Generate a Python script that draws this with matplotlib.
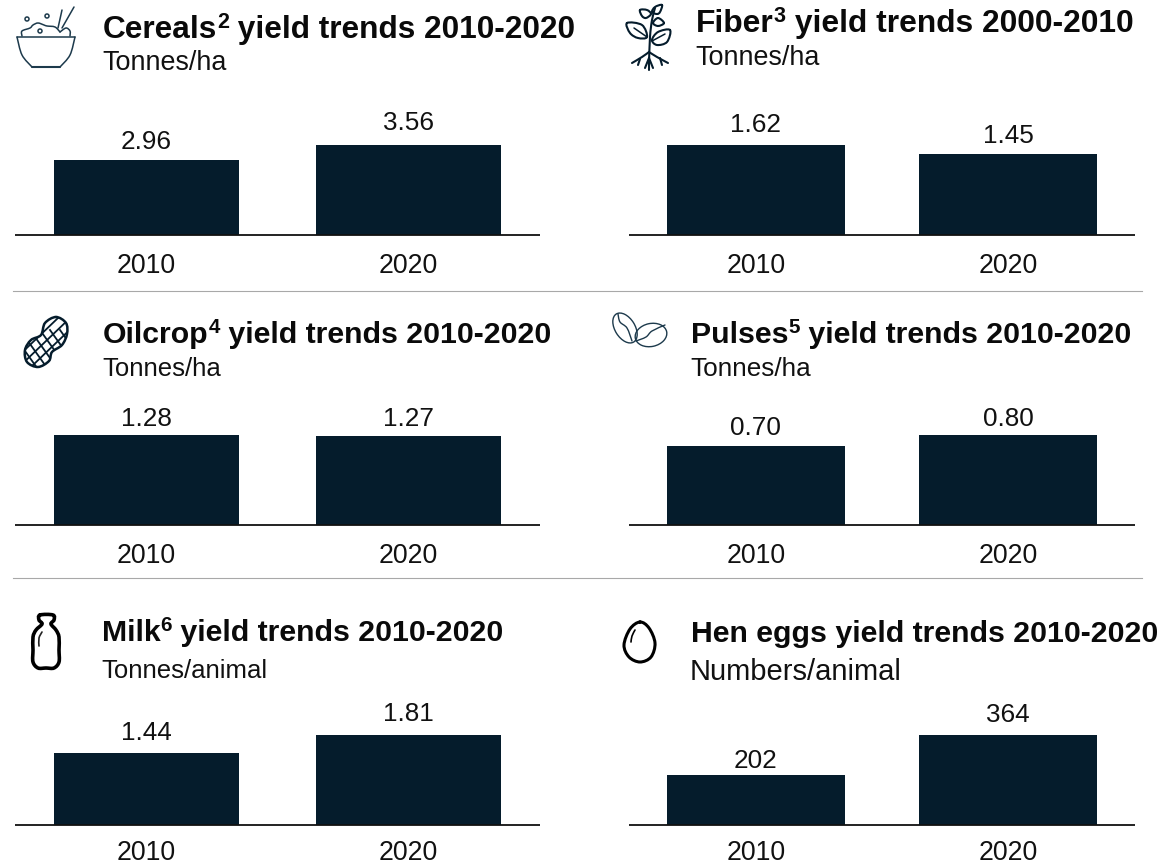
import matplotlib
matplotlib.use("Agg")
import matplotlib.pyplot as plt
from matplotlib.path import Path
from matplotlib.patches import PathPatch, Ellipse, Circle

plt.rcParams['font.family'] = ['Liberation Sans', 'DejaVu Sans']

W, H = 1163, 864
NAVY = '#051c2c'
INK = '#111111'

years = ['2010', '2020']
cereals = [2.96, 3.56]
fiber = [1.62, 1.45]
oilcrop = [1.28, 1.27]
pulses = [0.70, 0.80]
milk = [1.44, 1.81]
eggs = [202, 364]

cereals_labels = ['2.96', '3.56']
fiber_labels = ['1.62', '1.45']
oilcrop_labels = ['1.28', '1.27']
pulses_labels = ['0.70', '0.80']
milk_labels = ['1.44', '1.81']
eggs_labels = ['202', '364']

title_heads = ['Cereals', 'Fiber', 'Oilcrop', 'Pulses', 'Milk', 'Hen eggs']
title_sups = ['2', '3', '4', '5', '6', '']
title_tails = [' yield trends 2010-2020', ' yield trends 2000-2010', ' yield trends 2010-2020',
               ' yield trends 2010-2020', ' yield trends 2010-2020', ' yield trends 2010-2020']
units = ['Tonnes/ha', 'Tonnes/ha', 'Tonnes/ha', 'Tonnes/ha',
         'Tonnes/animal', 'Numbers/animal']

fig = plt.figure(figsize=(W / 100, H / 100), dpi=100)


# axes rectangle given in pixels from the top left, nudge = label shift in px
def panel(left, right, base, values, labels, nudge, pad=13):
    ax = fig.add_axes([left / W, 1 - base / H, (right - left) / W, 90 / H])
    ax.bar(years, values, width=0.705, color=NAVY)
    ax.set_xlim(-0.5, 1.5)
    ax.set_ylim(0, max(values))
    ax.set_yticks([])
    ax.tick_params(axis='x', length=0, pad=pad, labelsize=19.2, colors=INK)
    for s in ['top', 'left', 'right']:
        ax.spines[s].set_visible(False)
    ax.spines['bottom'].set_linewidth(1.3)
    ax.spines['bottom'].set_color(INK)
    ax.spines['bottom'].set_capstyle('butt')
    for i, v in enumerate(values):
        ax.annotate(labels[i], (i, v), xytext=(0, 6 - nudge[i] * 0.72), textcoords='offset points',
                    ha='center', va='bottom', fontsize=18.8, color=INK,
                    annotation_clip=False)
    return ax


panel(15, 540, 235, cereals, cereals_labels, [2, -2])
panel(629.5, 1134.5, 235, fiber, fiber_labels, [0, 2])
panel(15, 540, 525, oilcrop, oilcrop_labels, [4, 4])
panel(629.5, 1134.5, 525, pulses, pulses_labels, [2, 4])
panel(15, 540, 825, milk, milk_labels, [0, -1], pad=11)
panel(629.5, 1134.5, 825, eggs, eggs_labels, [6, 0], pad=11)

# overlay in pixel coordinates for headers, rules and icons
ov = fig.add_axes([0, 0, 1, 1], facecolor='none')
ov.set_xlim(0, W)
ov.set_ylim(H, 0)
ov.axis('off')

title_pos = [(103, 38), (696, 32), (103, 343), (691, 343), (102, 641), (691, 642)]
title_size = [22.8, 22.9, 21.8, 21.8, 21.8, 21.8]
unit_pos = [(102, 70), (695, 65), (102, 376), (690, 376), (101, 678), (690, 680)]
unit_size = [19.4, 19.4, 18.5, 18.8, 18.5, 21.0]

renderer = fig.canvas.get_renderer()
for i in range(6):
    x, y = title_pos[i]
    fs = title_size[i]
    for piece, size, lift, gap in [(title_heads[i], fs, 0, 0), (title_sups[i], fs * 0.68, 10, 0),
                                   (title_tails[i], fs, 0, 1)]:
        if not piece:
            continue
        # keep the leading space of the tail in the measured width
        t = ov.text(x, y - lift, piece.replace(' ', '\u00a0'), fontsize=size, fontweight='bold',
                    color='#0a0a0a', va='baseline')
        x = ov.transData.inverted().transform(t.get_window_extent(renderer))[1][0] + gap

for t, (x, y), fs in zip(units, unit_pos, unit_size):
    ov.text(x, y, t, fontsize=fs, color=INK, va='baseline')

for y in [290.5, 578]:
    ov.plot([13, 1142], [y, y], color='#a8a8a8', lw=0.8)


# smooth curve through points (catmull-rom to bezier)
def smooth(pts, closed=False):
    n = len(pts)
    verts = [pts[0]]
    codes = [Path.MOVETO]
    last = n if closed else n - 1
    for i in range(last):
        if closed:
            p0, p1, p2, p3 = pts[(i - 1) % n], pts[i], pts[(i + 1) % n], pts[(i + 2) % n]
        else:
            p0, p1, p2, p3 = pts[max(i - 1, 0)], pts[i], pts[i + 1], pts[min(i + 2, n - 1)]
        c1 = (p1[0] + (p2[0] - p0[0]) / 6, p1[1] + (p2[1] - p0[1]) / 6)
        c2 = (p2[0] - (p3[0] - p1[0]) / 6, p2[1] - (p3[1] - p1[1]) / 6)
        verts += [c1, c2, p2]
        codes += [Path.CURVE4] * 3
    return Path(verts, codes)


def curve(pts, closed=False, lw=1.1, color='#1d3a4c'):
    p = PathPatch(smooth(pts, closed), fc='none', ec=color, lw=lw, capstyle='round')
    ov.add_patch(p)
    return p


def seg(pts, lw=1.1, color='#1d3a4c'):
    ov.plot([a[0] for a in pts], [a[1] for a in pts], color=color, lw=lw,
            solid_capstyle='round', solid_joinstyle='round')


# bowl
seg([(17, 37), (75, 37)])
curve([(17, 37), (22, 55), (32, 67)])
curve([(75, 37), (70, 55), (60, 67)])
seg([(32, 67), (60, 67)], lw=1.5)
curve([(22, 36), (22, 31), (30, 28), (33, 25), (38, 23), (44, 25), (47, 26), (55, 27), (60, 32)])
curve([(60, 32), (66, 28), (70, 31), (70, 36)])
seg([(58, 28), (62, 10)])
seg([(62, 28), (74, 7)])
for c in [(27, 19), (47, 16), (40, 31)]:
    ov.add_patch(Circle(c, 2.0, fc='none', ec='#1d3a4c', lw=1.1))

# plant
PL = NAVY
curve([(649, 63), (650, 37), (652, 20), (655, 8)], lw=1.5, color=PL)
for leaf in [[(627, 23), (642, 25), (647, 37), (638, 38), (630, 33)],
             [(670, 30), (658, 32), (652, 40), (657, 45), (667, 42)],
             [(640, 10), (647, 10), (651, 14), (646, 18), (642, 16)],
             [(662, 5), (655, 7), (652, 12), (657, 14), (660, 12)],
             [(664, 23), (658, 18), (653, 23), (658, 26)]]:
    curve(leaf, closed=True, lw=1.5, color=PL)
seg([(634, 28), (647, 37)], lw=1.1, color=PL)
seg([(665, 34), (652, 41)], lw=1.1, color=PL)
curve([(649, 52), (642, 57), (632, 63)], lw=1.5, color=PL)
curve([(649, 52), (657, 57), (668, 63)], lw=1.5, color=PL)
seg([(649, 60), (649, 70)], lw=1.5, color=PL)
seg([(640, 59), (638, 65)], lw=1.5, color=PL)
seg([(660, 58), (662, 65)], lw=1.5, color=PL)
seg([(649, 58), (645, 68)], lw=1.5, color=PL)
seg([(649, 58), (653, 68)], lw=1.5, color=PL)

# peanut with net pattern clipped to the shell
shell = curve([(56, 317), (66, 323), (67, 334), (62, 345), (52, 352), (49, 361), (38, 367),
               (27, 362), (25, 350), (31, 340), (41, 335), (45, 323)],
              closed=True, lw=1.8, color=NAVY)
for k in range(-4, 5):
    a, = ov.plot([20 + k * 10, 50 + k * 10], [330, 372], color=NAVY, lw=1.3)
    b, = ov.plot([20 + k * 12, 70 + k * 12], [366, 318], color=NAVY, lw=1.3)
    a.set_clip_path(shell)
    b.set_clip_path(shell)

# beans
ov.add_patch(Ellipse((625, 328), 33, 20, angle=58, fc='none', ec='#1d3a4c', lw=1.0))
ov.add_patch(Ellipse((651, 335), 32, 23, angle=-12, fc='none', ec='#1d3a4c', lw=1.0))
curve([(618, 314), (620, 322), (627, 328), (632, 341)], lw=1.0)
curve([(636, 341), (646, 337), (652, 331), (665, 325)], lw=1.0)

# milk bottle
curve([(40, 615), (53, 615), (54, 620), (51, 624), (56, 630), (59, 637), (59, 650), (59, 662),
       (54, 668), (46, 668), (38, 668), (33, 662), (33, 650), (33, 637), (36, 630),
       (42, 624), (39, 620)], closed=True, lw=2.6, color='#000000')
curve([(39, 646), (39, 638), (42, 632)], lw=1.2, color='#222222')

# egg
curve([(640, 622), (649, 628), (655, 643), (651, 657), (640, 662), (629, 657), (624, 645),
       (630, 629)], closed=True, lw=2.2, color='#000000')
curve([(631, 642), (632, 636), (635, 630)], lw=1.2, color='#000000')

fig.savefig('out.png', dpi=100)
